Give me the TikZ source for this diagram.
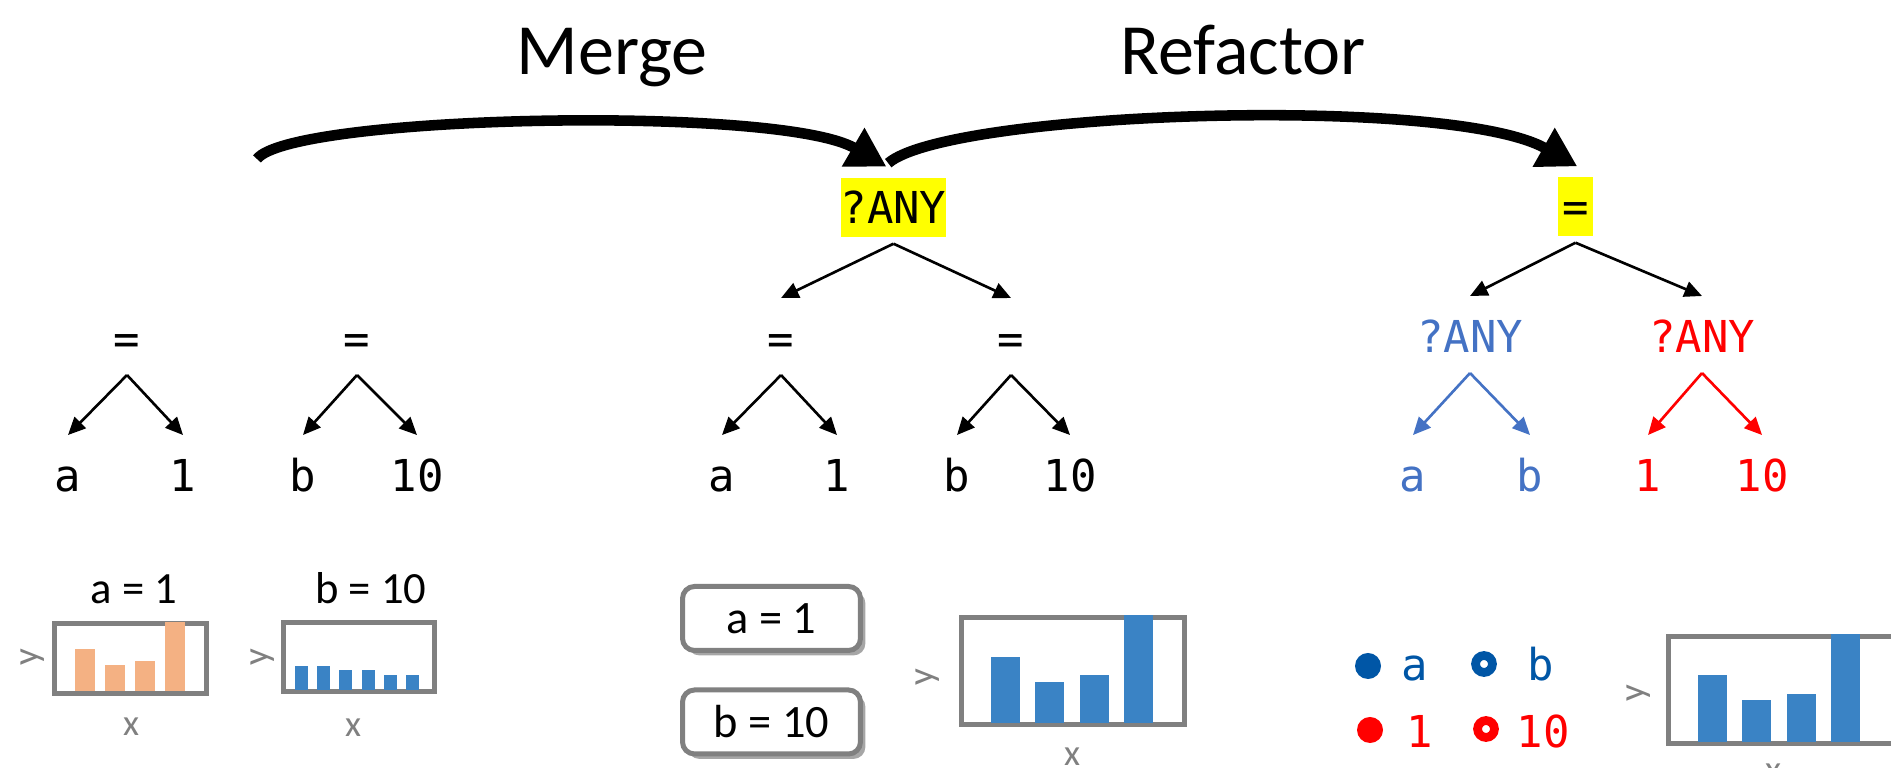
\documentclass[tikz,border=0pt]{standalone}
\usepackage{fontspec}
\setmainfont{Carlito}
\newfontfamily\codefont{DejaVu Sans Mono}
\usepackage{tikz}
\usetikzlibrary{arrows.meta, positioning, shadows}

\definecolor{barorange}{RGB}{244,177,131}
\definecolor{barblue}{RGB}{58,131,197}
\definecolor{framegray}{RGB}{128,128,128}
\definecolor{treeblue}{RGB}{68,114,196}
\definecolor{treered}{RGB}{255,0,0}
\definecolor{dotblue}{RGB}{0,86,166}
\definecolor{hilite}{RGB}{255,255,0}

\tikzset{
  title/.style={font=\fontsize{20.5}{24}\selectfont, inner sep=0pt, anchor=base},
  term/.style={font=\codefont\fontsize{12.5}{14}\selectfont, inner sep=0pt,
    text height=16pt, text depth=5.5pt, anchor=base},
  hibox/.style={fill=hilite, font=\codefont\fontsize{12.5}{14}\selectfont,
    inner xsep=0pt, inner ysep=0pt, text height=9pt, text depth=0pt,
    minimum height=16.8pt},
  treearrow/.style={line width=0.75pt, -{Triangle[length=5pt, width=4.5pt]}},
  bigarrow/.style={line width=3pt, -{Triangle[length=11pt, width=12pt]}},
  plotframe/.style={draw=framegray, line width=1.42pt},
  chartlabel/.style={font=\fontsize{12.7}{14}\selectfont, inner sep=0pt, anchor=base},
  axislabel/.style={text=framegray, font=\fontsize{10.5}{12}\selectfont, inner sep=0pt},
  valbox/.style={draw=framegray, line width=1.42pt, rounded corners=3.4pt, fill=white,
    minimum width=50.6pt, minimum height=18.2pt, font=\fontsize{13.2}{15}\selectfont,
    drop shadow={shadow xshift=1.4pt, shadow yshift=-1.4pt, fill=black, opacity=0.35}},
  legendtext/.style={font=\codefont\fontsize{12.5}{14}\selectfont, inner sep=0pt, anchor=base},
  dot/.style={circle, inner sep=0pt, minimum size=7.4pt},
  ring/.style={circle, inner sep=0pt, minimum size=4.8pt, line width=2.5pt},
}

\begin{document}
\begin{tikzpicture}[x=0.01cm, y=-0.01cm]
    \useasboundingbox (0,0) rectangle (1891,768);

    % Titres
    \node[title] (merge) at (612,75) {Merge};
    \node[title] (refactor) at (1243,75) {Refactor};

    % Arbres de gauche
    \node[term] (eqA) at (127,355) {=};
    \node[term] (aA) at (68,492) {a};
    \node[term] (oneA) at (183,492) {1};
    \node[term] (eqB) at (357,355) {=};
    \node[term] (bB) at (303,492) {b};
    \node[term] (tenB) at (417,492) {10};
    \foreach \p/\c in {eqA/aA, eqA/oneA, eqB/bB, eqB/tenB}
        \draw[treearrow] (\p.south) -- (\c.north);

    % Arbre fusionne
    \node[hibox] (anyM) at (893.5,207.5) {?ANY};
    \node[term] (eqM1) at (781,355) {=};
    \node[term] (eqM2) at (1011,355) {=};
    \node[term] (aM) at (722,492) {a};
    \node[term] (oneM) at (837,492) {1};
    \node[term] (bM) at (957,492) {b};
    \node[term] (tenM) at (1070,492) {10};
    \draw[treearrow] ([yshift=-1.7pt]anyM.south) -- (eqM1.north);
    \draw[treearrow] ([yshift=-1.7pt]anyM.south) -- (eqM2.north);
    \foreach \p/\c in {eqM1/aM, eqM1/oneM, eqM2/bM, eqM2/tenM}
        \draw[treearrow] (\p.south) -- (\c.north);

    % Arbre refactorise
    \node[hibox, minimum width=10pt] (eqR) at (1575.5,206.5) {=};
    \node[term, text=treeblue] (anyB) at (1470,353) {?ANY};
    \node[term, text=treered] (anyR) at (1702,353) {?ANY};
    \node[term, text=treeblue] (aR) at (1413,492) {a};
    \node[term, text=treeblue] (bR) at (1530,492) {b};
    \node[term, text=treered] (oneR) at (1648,492) {1};
    \node[term, text=treered] (tenR) at (1762,492) {10};
    \draw[treearrow] ([yshift=-1.7pt]eqR.south) -- (anyB.north);
    \draw[treearrow] ([yshift=-1.7pt]eqR.south) -- (anyR.north);
    \draw[treearrow, treeblue] (anyB.south) -- (aR.north);
    \draw[treearrow, treeblue] (anyB.south) -- (bR.north);
    \draw[treearrow, treered] (anyR.south) -- (oneR.north);
    \draw[treearrow, treered] (anyR.south) -- (tenR.north);

    % Grandes fleches
    \coordinate (mergestart) at (257,159);
    \draw[bigarrow] (mergestart) .. controls +(33,-44) and +(-106,-62) .. ([shift={(-2pt,3pt)}]anyM.north);
    \draw[bigarrow] ([shift={(-1.5pt,4pt)}]anyM.north) .. controls +(60,-52) and +(-127,-72) .. ([shift={(0.5pt,2.8pt)}]eqR.north);

    % Graphique a = 1
    \node[chartlabel] (capA) at (134,604) {a = 1};
    \draw[plotframe] (54.5,623.5) rectangle (206.5,693.5);
    \foreach \xl/\top in {75/649, 105/665, 135/661, 165/622}
        \fill[barorange] (\xl,691) rectangle (\xl+20,\top);
    \node[axislabel, rotate=90] (yA) at (33,657) {y};
    \node[axislabel] (xA) at (131,727) {x};

    % Graphique b = 10
    \node[chartlabel] (capB) at (371,604) {b = 10};
    \draw[plotframe] (283.5,622.5) rectangle (434.5,691.5);
    \foreach \xl/\top in {295/666, 317/666, 339/670, 362/670, 384/675, 406/675}
        \fill[barblue] (\xl,690) rectangle (\xl+13,\top);
    \node[axislabel, rotate=90] (yB) at (263,657) {y};
    \node[axislabel] (xB) at (353,728) {x};

    % Valeurs fusionnees
    \node[valbox] (valA) at (771.5,618.5) {a = 1};
    \node[valbox] (valB) at (771.5,722) {b = 10};

    % Graphique fusionne
    \draw[plotframe] (961.5,617.5) rectangle (1184.5,724.5);
    \foreach \xl/\top in {991/657, 1035/682, 1080/675, 1124/615}
        \fill[barblue] (\xl,723) rectangle (\xl+29,\top);
    \node[axislabel, rotate=90] (yM) at (928,677) {y};
    \node[axislabel] (xM) at (1072,757) {x};

    % Legende
    \node[dot, fill=dotblue] (dotA) at (1368,666) {};
    \node[legendtext, text=dotblue] (legA) at (1415,681) {a};
    \node[ring, draw=dotblue] (ringB) at (1484,664) {};
    \node[legendtext, text=dotblue] (legB) at (1541,681) {b};
    \node[dot, fill=treered] (dotOne) at (1370,730) {};
    \node[legendtext, text=treered] (legOne) at (1420,748) {1};
    \node[ring, draw=treered] (ringTen) at (1486,729) {};
    \node[legendtext, text=treered] (legTen) at (1543,748) {10};

    % Graphique refactorise
    \draw[plotframe] (1668.5,636.5) rectangle (1905,743.5);
    \foreach \xl/\top in {1698/675, 1742/700, 1787/694, 1831/634}
        \fill[barblue] (\xl,742) rectangle (\xl+29,\top);
    \node[axislabel, rotate=90] (yR) at (1639,693) {y};
    \node[axislabel] (xR) at (1773,773) {x};
\end{tikzpicture}
\end{document}
